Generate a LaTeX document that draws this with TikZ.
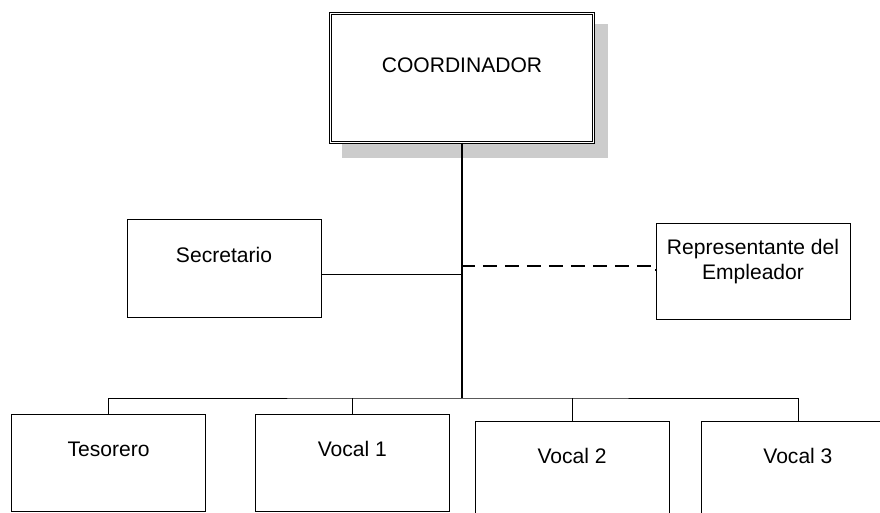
\documentclass[tikz,border=0pt]{standalone}
\usepackage{fontspec}
\setmainfont{Liberation Sans}
\usetikzlibrary{positioning}

\begin{document}
\begin{tikzpicture}[
    x=0.75pt, y=-0.75pt,
    font=\fontsize{15.8}{18.75}\selectfont,
    box/.style={
      draw,
      line width=.6pt,
      inner sep=0pt,
      align=center,
      minimum width=145.5pt,
      minimum height=72.75pt,
      text height=31.5pt,
      text depth=41.25pt,
    },
    link/.style={line width=.6pt},
    trunk/.style={line width=1.5pt},
  ]
  \useasboundingbox (0,0) rectangle (880,513);
  % shadow of the top box
  \fill[black!20] (342,24) rectangle (608,158);
  \node[box, fill=white, line width=.75pt, double=white, double distance=1.4pt,
    minimum width=197.2pt, minimum height=96.7pt,
    text height=44.2pt, text depth=52.5pt] (coord) at (462,78) {COORDINADOR};
  \node[box, minimum height=73.5pt, text height=32.6pt, text depth=40.9pt]
    (secr) at (224,268) {Secretario};
  \node[box, minimum height=72pt, text height=42.4pt, text depth=29.6pt]
    (repr) at (753,271) {Representante del\\Empleador};
  \node[box] (teso) at (108.5,462.5) {Tesorero};
  \node[box, right=36.75pt of teso] (voc1) {Vocal 1};
  \node[box, right=18.75pt of voc1, yshift=-5.25pt] (voc2) {Vocal 2};
  \node[box, right=23.25pt of voc2] (voc3) {Vocal 3};
  \coordinate (bus) at (462,398);
  \coordinate (sj) at (462,274);
  \coordinate (dj) at (462,266);
  \draw[trunk] (coord.south) -- (bus);
  \draw[link] (teso.north) |- (bus) -| (voc3.north);
  \draw[link] (voc1.north) -- (voc1.north |- bus);
  \draw[link] (voc2.north) -- (voc2.north |- bus);
  \draw[link] (secr.east |- sj) -- (sj);
  \draw[line width=1.5pt, dash pattern=on 10.5pt off 6pt, dash phase=7.5pt]
    (coord.south) -- (dj) -| (repr.west);
\end{tikzpicture}
\end{document}
